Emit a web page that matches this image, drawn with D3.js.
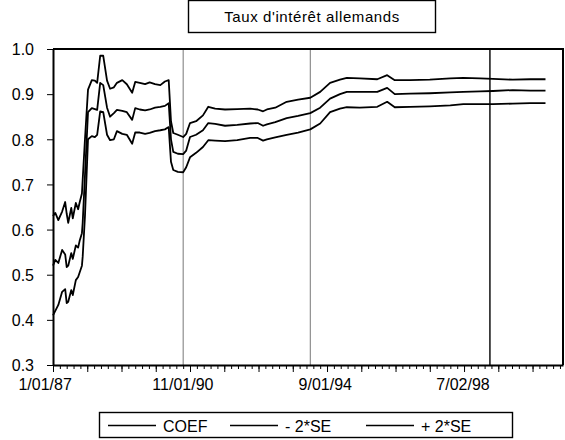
<!DOCTYPE html>
<meta charset="utf-8">
<style>
    body { margin: 0; background: #fff; }
    text { font-family: "Liberation Sans", Arial, sans-serif; fill: #000; }
    .axis path, .axis line { stroke: #000; }
    .series { fill: none; stroke: #000; stroke-width: 1.8px; stroke-linejoin: round; }
</style>
<svg width="565" height="440"></svg>
<script src="https://d3js.org/d3.v7.min.js"></script>
<script>
    var obs = [0, 3, 7, 12, 16, 18, 20, 24, 26, 30, 33, 35, 38, 39, 42, 46, 51, 55, 58, 62,
        66, 71, 75, 80, 84, 91, 97, 104, 108, 114, 121, 127, 134, 141, 147, 152, 155, 158, 164, 171,
        175, 180, 188, 197, 204, 213, 226, 242, 259, 269, 276, 281, 292, 307, 322, 338, 351, 364, 377, 386,
        403, 426, 439, 449, 469, 495, 522, 539, 561, 578, 604, 627, 647];

    var coef = [0.52, 0.533, 0.526, 0.555, 0.545, 0.517, 0.52, 0.548, 0.535, 0.565, 0.56, 0.575, 0.592, 0.615, 0.72, 0.86, 0.869, 0.867, 0.865, 0.925,
        0.92, 0.87, 0.85, 0.858, 0.865, 0.863, 0.86, 0.843, 0.869, 0.866, 0.864, 0.866, 0.87, 0.872, 0.874, 0.88, 0.80, 0.772, 0.768, 0.767,
        0.775, 0.805, 0.81, 0.82, 0.836, 0.834, 0.83, 0.832, 0.835, 0.836, 0.83, 0.833, 0.838, 0.847, 0.852, 0.858, 0.87, 0.89, 0.90, 0.905,
        0.905, 0.905, 0.914, 0.90, 0.901, 0.902, 0.904, 0.905, 0.906, 0.907, 0.909, 0.908, 0.908];

    var lower = [0.41, 0.42, 0.433, 0.462, 0.468, 0.437, 0.44, 0.466, 0.455, 0.488, 0.495, 0.505, 0.52, 0.54, 0.63, 0.80, 0.807, 0.805, 0.81, 0.862,
        0.86, 0.81, 0.798, 0.80, 0.818, 0.812, 0.81, 0.79, 0.815, 0.815, 0.812, 0.814, 0.818, 0.82, 0.822, 0.827, 0.75, 0.732, 0.728, 0.727,
        0.738, 0.76, 0.77, 0.783, 0.798, 0.797, 0.796, 0.798, 0.803, 0.803, 0.797, 0.80, 0.804, 0.81, 0.815, 0.822, 0.835, 0.86, 0.868, 0.871,
        0.87, 0.872, 0.883, 0.871, 0.872, 0.873, 0.875, 0.878, 0.878, 0.878, 0.879, 0.88, 0.88];

    var upper = [0.63, 0.637, 0.621, 0.64, 0.661, 0.635, 0.615, 0.648, 0.625, 0.659, 0.645, 0.66, 0.68, 0.71, 0.80, 0.91, 0.931, 0.93, 0.925, 0.985,
        0.985, 0.93, 0.912, 0.915, 0.925, 0.931, 0.922, 0.903, 0.927, 0.925, 0.922, 0.926, 0.922, 0.92, 0.928, 0.931, 0.84, 0.814, 0.81, 0.805,
        0.812, 0.836, 0.84, 0.853, 0.872, 0.868, 0.866, 0.867, 0.868, 0.866, 0.862, 0.866, 0.87, 0.883, 0.888, 0.892, 0.905, 0.925, 0.932, 0.936,
        0.935, 0.933, 0.942, 0.931, 0.931, 0.932, 0.935, 0.936, 0.935, 0.934, 0.932, 0.933, 0.933];

    var gridObs = [171, 338, 574];
    var labelObs = [-11, 170, 357, 538];
    var dateLabels = ["1/01/87", "11/01/90", "9/01/94", "7/02/98"];
    var yTicks = [0.3, 0.4, 0.5, 0.6, 0.7, 0.8, 0.9, 1.0];
    var legendNames = ["COEF", "- 2*SE", "+ 2*SE"];

    var svg = d3.select("svg"),
        x0 = 53, x1 = 563, y0 = 49, y1 = 365;

    var x = d3.scaleLinear().domain([0, 670]).range([x0, x1]),
        y = d3.scaleLinear().domain([0.3, 1.0]).range([y1, y0]);

    // title box
    var tg = svg.append("g");
    tg.append("rect").attr("x", 188.5).attr("y", 0.5).attr("width", 247).attr("height", 32)
        .attr("fill", "#fff").attr("stroke", "#000").attr("stroke-width", 1.4);
    tg.append("text").attr("x", 312).attr("y", 22).attr("text-anchor", "middle")
        .style("font-size", "15px").style("letter-spacing", "0.6px")
        .text("Taux d'intérêt allemands");

    // vertical grid lines
    svg.append("g").selectAll("line")
        .data(gridObs)
        .enter().append("line")
        .attr("x1", function (d) { return x(d); })
        .attr("x2", function (d) { return x(d); })
        .attr("y1", y0).attr("y2", y1)
        .attr("stroke", function (d, i) { return i == 2 ? "#000" : "#555"; })
        .attr("stroke-width", function (d, i) { return i == 2 ? 1.4 : 0.8; });

    // frame top/right
    svg.append("path")
        .attr("d", "M" + x0 + "," + y0 + "H" + x1 + "V" + y1)
        .attr("fill", "none").attr("stroke", "#000").attr("stroke-width", 2);

    // y axis
    svg.append("g")
        .attr("class", "axis")
        .attr("transform", "translate(" + x0 + ",0)")
        .call(d3.axisLeft(y).tickValues(yTicks).tickFormat(d3.format(".1f")).tickSize(6).tickSizeOuter(0))
        .call(function (g) {
            g.select(".domain").attr("stroke-width", 2);
            g.selectAll("text").style("font-size", "16px").attr("x", -19).attr("dy", "0.36em");
        });

    // x axis: minor ticks
    svg.append("g")
        .attr("class", "axis")
        .attr("transform", "translate(0," + y1 + ")")
        .call(d3.axisBottom(x).tickValues(d3.range(0, 671, 9)).tickFormat("").tickSize(4).tickSizeOuter(0))
        .call(function (g) { g.select(".domain").attr("stroke-width", 2); });

    // x axis: longer ticks
    svg.append("g")
        .attr("class", "axis")
        .attr("transform", "translate(0," + y1 + ")")
        .call(d3.axisBottom(x).tickValues(d3.range(0, 671, 45)).tickFormat("").tickSize(7).tickSizeOuter(0))
        .call(function (g) { g.select(".domain").remove(); });

    // x axis labels
    svg.append("g")
        .attr("class", "axis")
        .attr("transform", "translate(0," + y1 + ")")
        .call(d3.axisBottom(x).tickValues(labelObs).tickFormat(function (d, i) { return dateLabels[i]; })
            .tickSize(0).tickSizeOuter(0))
        .call(function (g) {
            g.select(".domain").remove();
            g.selectAll("text").style("font-size", "16px").attr("y", 14);
        });

    // series
    var line = d3.line()
        .x(function (d) { return x(d[0]); })
        .y(function (d) { return y(d[1]); });

    [coef, lower, upper].forEach(function (s) {
        svg.append("path")
            .attr("class", "series")
            .attr("d", line(obs.map(function (o, i) { return [o, s[i]]; })));
    });

    // legend
    var lg = svg.append("g");
    lg.append("rect").attr("x", 99.5).attr("y", 412.5).attr("width", 413).attr("height", 25)
        .attr("fill", "#fff").attr("stroke", "#000").attr("stroke-width", 1.4);
    var itemX = [108, 230, 366];
    legendNames.forEach(function (name, i) {
        lg.append("line").attr("x1", itemX[i]).attr("x2", itemX[i] + 48)
            .attr("y1", 425.5).attr("y2", 425.5).attr("stroke", "#000").attr("stroke-width", 1.3);
        lg.append("text").attr("x", itemX[i] + 55).attr("y", 431.5)
            .style("font-size", "16px").text(name);
    });
</script>
